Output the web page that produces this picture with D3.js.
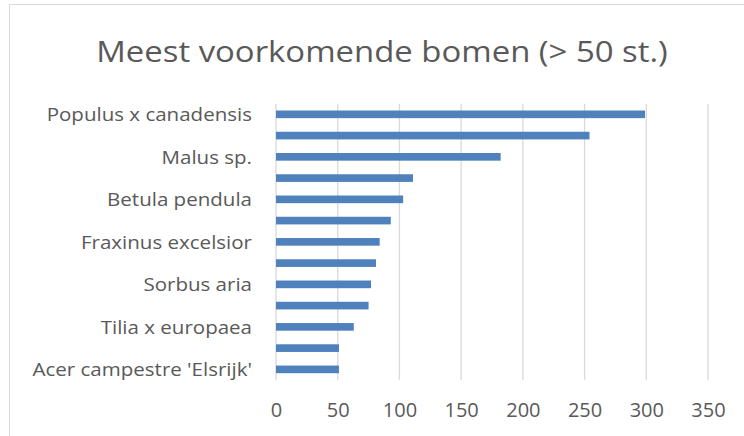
<!DOCTYPE html>
<html>
<head>
<meta charset="utf-8">
<script src="https://cdn.jsdelivr.net/npm/d3@7"></script>
<style>
  body { margin: 0; background: #fff; }
  text { font-family: "Open Sans", "Noto Sans", sans-serif; fill: #595959; }
</style>
</head>
<body>
<div id="chart"></div>
<script>
// categories top to bottom, only every other one is labelled in the original
const soorten = ["Populus x canadensis", "", "Malus sp.", "", "Betula pendula", "",
  "Fraxinus excelsior", "", "Sorbus aria", "", "Tilia x europaea", "", "Acer campestre 'Elsrijk'"];
const aantallen = [299, 254, 182, 111, 103, 93, 84, 81, 77, 75, 63, 51, 51];
const ticks = [0, 50, 100, 150, 200, 250, 300, 350];

let width = 744;
let height = 436;

let svg = d3.select('#chart')
  .append('svg')
  .attr('width', width)
  .attr('height', height)

// chart area border
svg.append('rect')
  .attr('x', 9.5)
  .attr('y', 4.5)
  .attr('width', 760)
  .attr('height', 460)
  .attr('fill', 'none')
  .attr('stroke', '#d9d9d9')

// title, stretched a bit to look like the original's wider font
svg.append('text')
  .attr('transform', 'translate(382,62) scale(1.115,1)')
  .attr('text-anchor', 'middle')
  .style('font-size', '29.5px')
  .text('Meest voorkomende bomen (> 50 st.)')

let x = d3.scaleLinear().domain([0, 350]).range([276, 708]);
let y = d3.scaleBand()
  .domain(d3.range(soorten.length))
  .range([103.7, 380])
  .paddingInner(0.64)
  .paddingOuter(0.32);

// gridlines
svg.selectAll('.grid')
  .data(ticks)
  .enter()
  .append('line')
  .attr('class', 'grid')
  .attr('x1', d => x(d))
  .attr('x2', d => x(d))
  .attr('y1', 103.7)
  .attr('y2', 380)
  .attr('stroke', '#d9d9d9')
  .attr('stroke-width', 1.3)

svg.selectAll('.bar')
  .data(aantallen)
  .enter()
  .append('rect')
  .attr('class', 'bar')
  .attr('x', x(0))
  .attr('y', (d, i) => y(i))
  .attr('width', d => x(d) - x(0))
  .attr('height', y.bandwidth())
  .attr('fill', '#4f81bd')

// x axis labels
let xAxis = d3.axisBottom(x).tickValues(ticks).tickSize(0).tickPadding(0);
let gx = svg.append('g')
  .attr('transform', 'translate(0,417)')
  .call(xAxis)
gx.select('.domain').remove()
gx.selectAll('text')
  .attr('y', 0)
  .attr('dy', 0)
  .style('font-size', '20px')
  .style('font-family', '"Open Sans", sans-serif')
  .attr('fill', '#595959')

// y axis labels
let yAxis = d3.axisLeft(y).tickFormat(i => soorten[i]).tickSize(0).tickPadding(0);
let gy = svg.append('g')
  .attr('transform', 'translate(252,0)')
  .call(yAxis)
gy.select('.domain').remove()
gy.selectAll('text')
  .attr('dy', '0.37em')
  .attr('transform', 'scale(1.14,1)')
  .style('font-size', '18px')
  .style('font-family', '"Open Sans", sans-serif')
  .attr('fill', '#595959')
</script>
</body>
</html>
